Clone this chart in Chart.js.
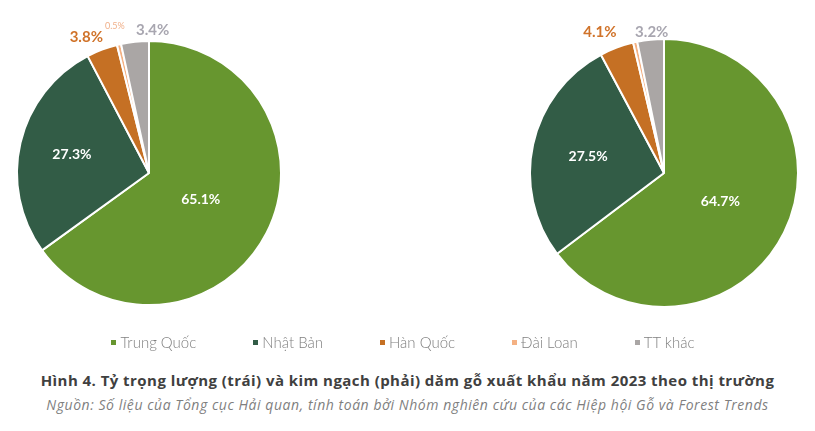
<!DOCTYPE html>
<html lang="vi">
<head>
<meta charset="utf-8">
<script src="https://cdn.jsdelivr.net/npm/chart.js@4.4.1/dist/chart.umd.min.js"></script>
<style>
  html, body { margin: 0; padding: 0; background: #fff; }
  body { width: 815px; height: 431px; position: relative; overflow: hidden; font-family: Lato, "Open Sans", sans-serif; }
  #leftPie { position: absolute; left: 0; top: 0; }
  #rightPie { position: absolute; left: 530px; top: 0; }
  #legend { position: absolute; top: 333px; left: 0; width: 815px; display: flex; justify-content: center; padding-right: 9px; box-sizing: border-box; }
  .legend-item { display: flex; align-items: center; margin: 0 28.5px; font-size: 15px; color: #808080; font-weight: 300; }
  .legend-item span.box { width: 5px; height: 5px; margin-right: 4px; display: inline-block; }
  #title { position: absolute; top: 370px; left: 0; width: 815px; text-align: center; font-family: "Open Sans", sans-serif; font-weight: 700; font-size: 15px; letter-spacing: 0.45px; color: #404040; }
  #source { position: absolute; top: 395px; left: 0; width: 815px; text-align: center; font-family: "Open Sans", sans-serif; font-style: italic; font-size: 14px; letter-spacing: 0.55px; color: #7f7f7f; }
</style>
</head>
<body>
<canvas id="leftPie" width="298" height="346"></canvas>
<canvas id="rightPie" width="268" height="346"></canvas>
<div id="legend"></div>
<div id="title">Hình 4. Tỷ trọng lượng (trái) và kim ngạch (phải) dăm gỗ xuất khẩu năm 2023 theo thị trường</div>
<div id="source">Nguồn: Số liệu của Tổng cục Hải quan, tính toán bởi Nhóm nghiên cứu của các Hiệp hội Gỗ và Forest Trends</div>
<script>
// Dữ liệu
const markets = ["Trung Quốc", "Nhật Bản", "Hàn Quốc", "Đài Loan", "TT khác"];
const volumeShare = [65.1, 27.3, 3.8, 0.5, 3.4];   // trái: lượng
const valueShare = [64.7, 27.5, 4.1, 0.5, 3.2];    // phải: kim ngạch
const valueLabels = ["64.7%", "27.5%", "4.1%", "", "3.2%"];
const volumeLabels = ["65.1%", "27.3%", "3.8%", "0.5%", "3.4%"];

const colors = ["#67962F", "#325C46", "#C57024", "#F4B183", "#AAA6A5"];
const labelColors = ["#ffffff", "#ffffff", "#D0732A", "#F0B08A", "#A8A6B0"];

// Plugin: nhãn phần trăm
const pctLabels = {
  id: "pctLabels",
  afterDatasetsDraw(chart, args, opts) {
    const ctx = chart.ctx;
    const meta = chart.getDatasetMeta(0);
    meta.data.forEach((arc, i) => {
      const text = opts.texts[i];
      if (!text) return;
      const p = opts.pos[i];
      const mid = (arc.startAngle + arc.endAngle) / 2;
      const r = p.r * arc.outerRadius;
      const x = arc.x + Math.cos(mid) * r + (p.dx || 0);
      const y = arc.y + Math.sin(mid) * r + (p.dy || 0);
      ctx.save();
      ctx.font = p.font;
      ctx.fillStyle = labelColors[i];
      ctx.textAlign = "center";
      ctx.textBaseline = "middle";
      ctx.fillText(text, x, y);
      ctx.restore();
    });
  }
};

function makePie(id, values, texts, radius, pos) {
  return new Chart(document.getElementById(id), {
    type: "pie",
    data: {
      labels: markets,
      datasets: [{
        data: values,
        backgroundColor: colors,
        borderColor: "#ffffff",
        borderWidth: 2
      }]
    },
    options: {
      responsive: false,
      animation: false,
      radius: radius,
      layout: { padding: 0 },
      plugins: {
        legend: { display: false },
        tooltip: { enabled: false },
        pctLabels: { texts: texts, pos: pos }
      }
    },
    plugins: [pctLabels]
  });
}

const bold = "700 14px Lato, sans-serif";
makePie("leftPie", volumeShare, volumeLabels, 132, [
  { r: 0.44, font: bold },
  { r: 0.6, font: bold },
  { r: 1.1, dx: -11, font: "700 15px Lato, sans-serif" },
  { r: 1.14, font: "400 9px Lato, sans-serif" },
  { r: 1.09, dx: 19, font: "700 15px Lato, sans-serif" }
]);
makePie("rightPie", valueShare, valueLabels, 134, [
  { r: 0.47, font: bold },
  { r: 0.58, font: bold },
  { r: 1.12, dx: -11, font: "700 15px Lato, sans-serif" },
  { r: 1.1, font: bold },
  { r: 1.06, dx: 2, font: "700 15px Lato, sans-serif" }
]);

// Chú giải
const legend = document.getElementById("legend");
markets.forEach((m, i) => {
  const item = document.createElement("div");
  item.className = "legend-item";
  item.innerHTML = '<span class="box" style="background:' + colors[i] + '"></span>' + m;
  legend.appendChild(item);
});
</script>
</body>
</html>
